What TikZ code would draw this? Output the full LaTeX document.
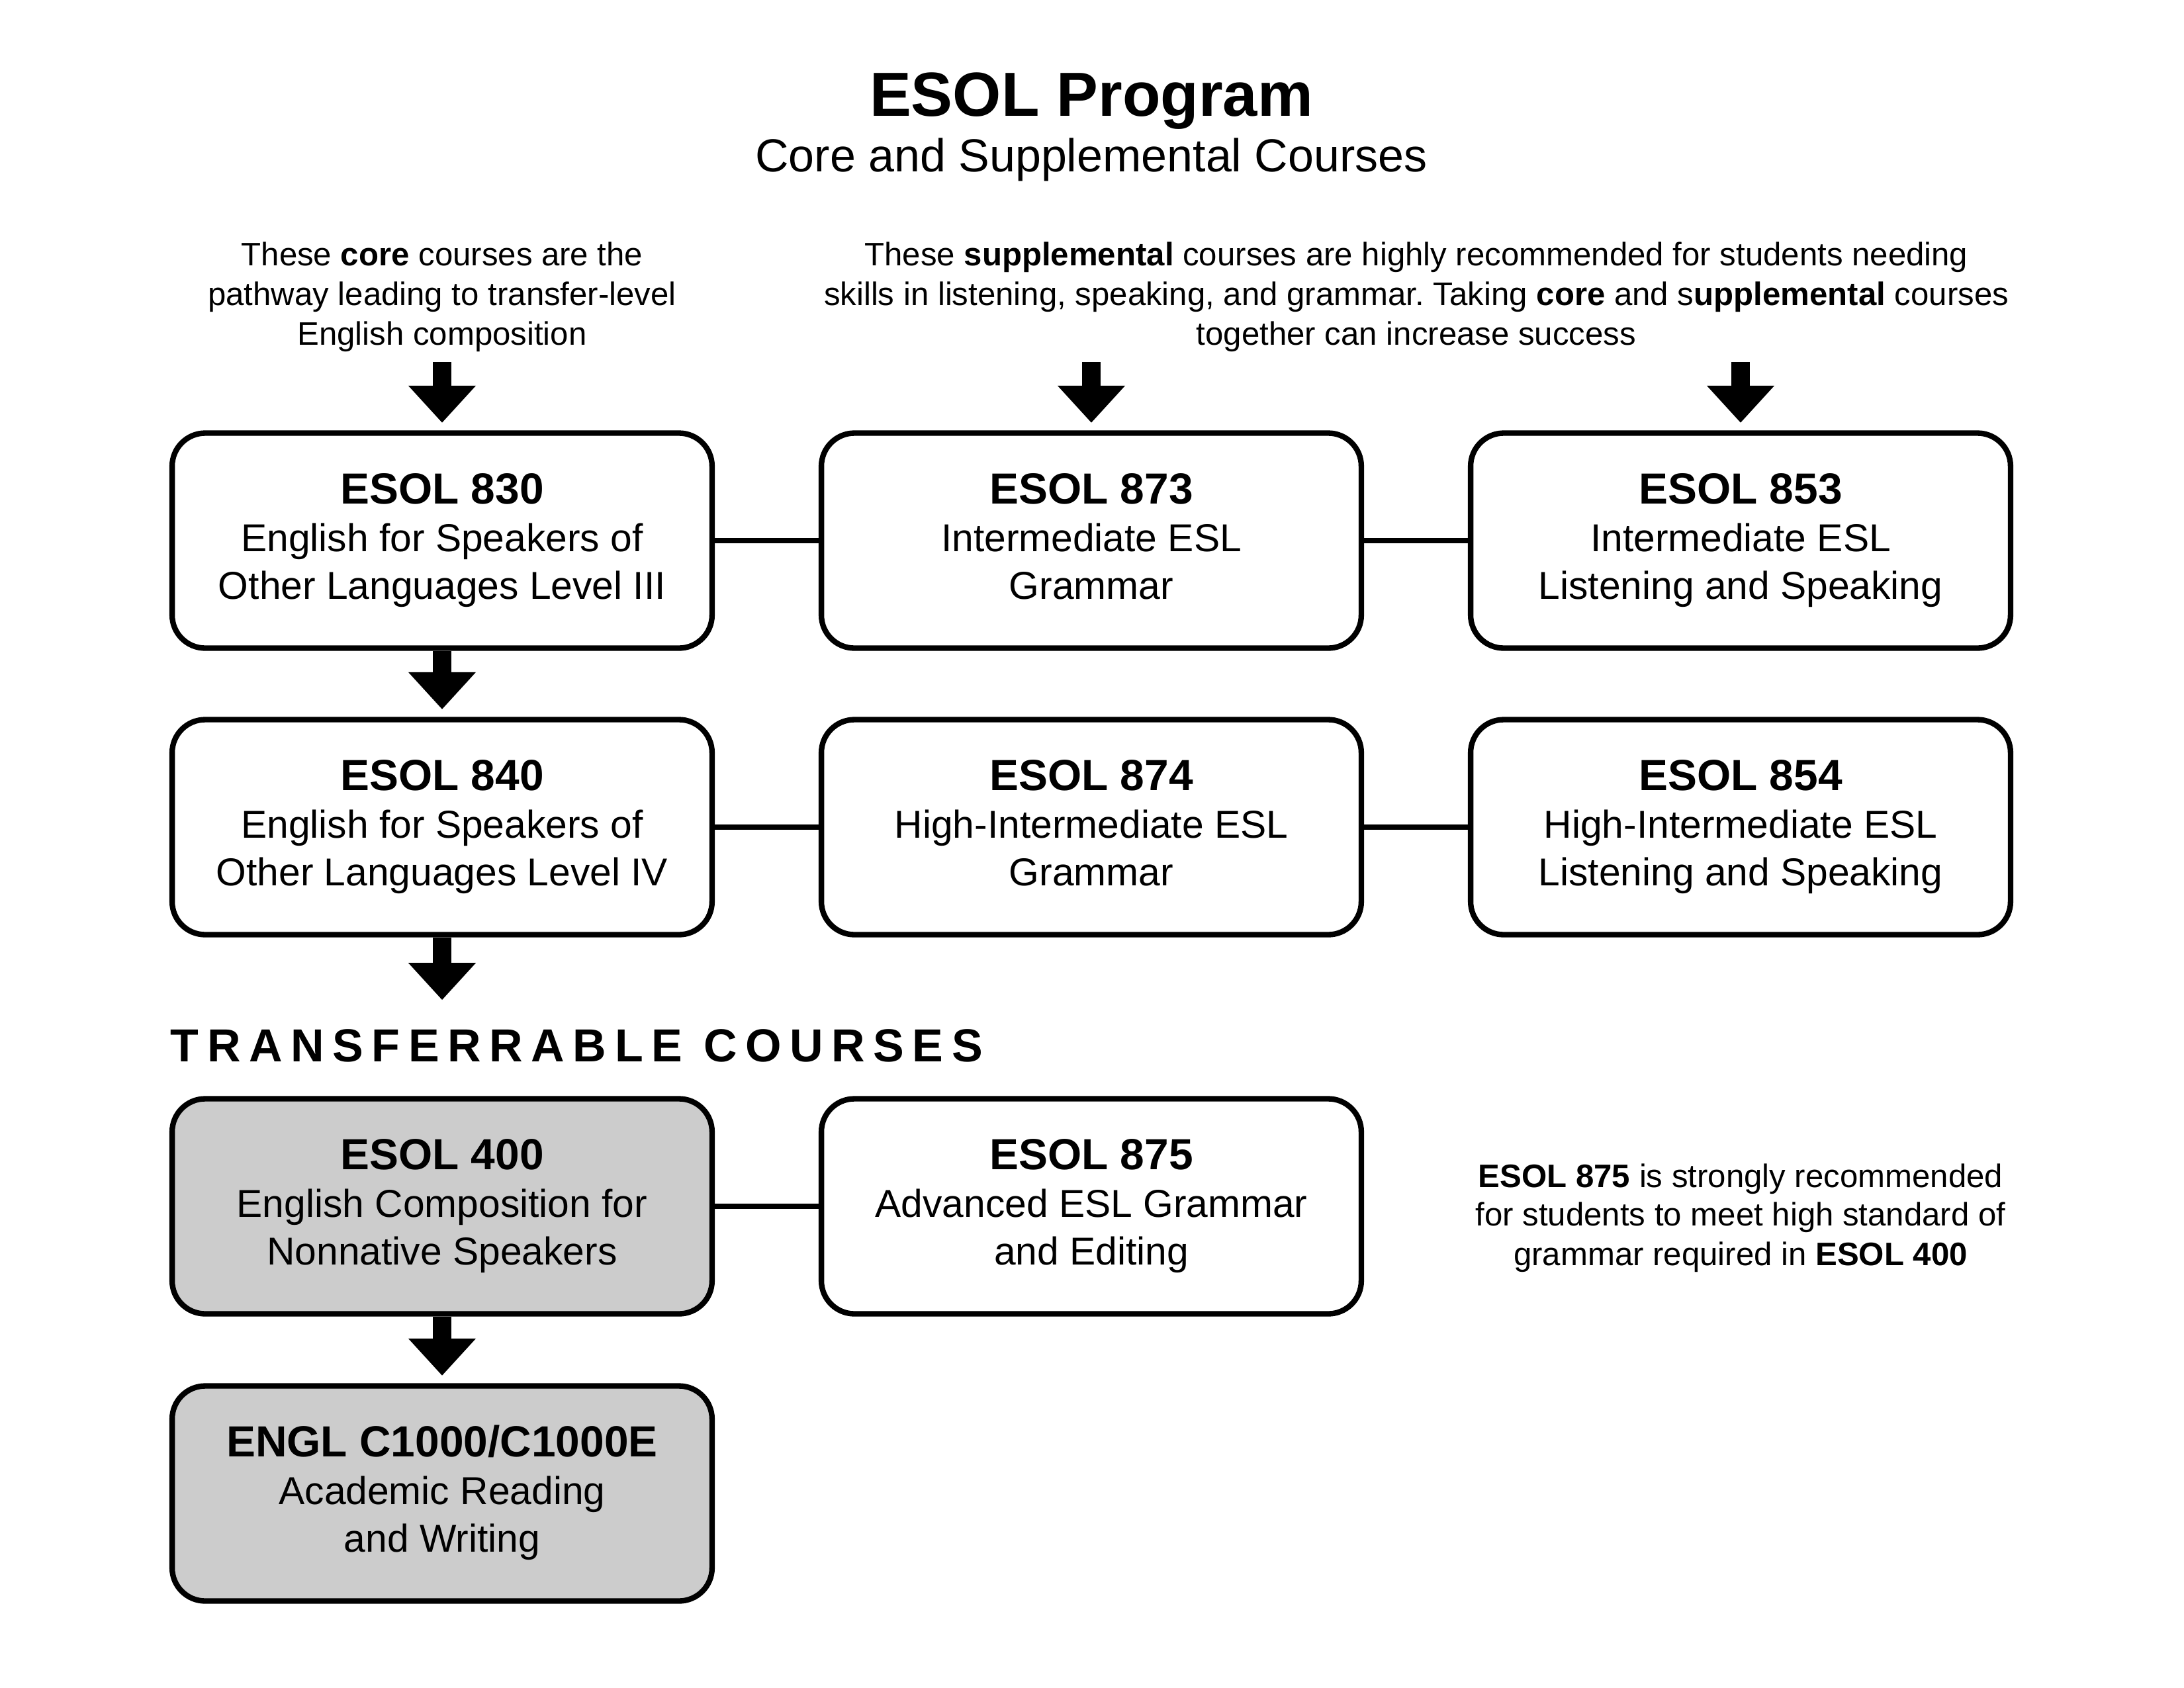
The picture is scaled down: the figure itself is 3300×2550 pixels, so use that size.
\documentclass[tikz,border=0pt]{standalone}
\usepackage{fontspec}
\setmainfont{Liberation Sans}
\usetikzlibrary{arrows.meta}
\definecolor{boxgray}{RGB}{204,204,204}
\frenchspacing
\newcommand{\coursehead}[1]{{\bfseries\fontsize{15.8}{17.2}\selectfont #1}}
\newcommand{\topstrut}{\rule{0pt}{13pt}}
\begin{document}
\begin{tikzpicture}[x=0.24pt,y=-0.24pt,
  course/.style={draw=black, line width=2pt, rounded corners=12pt,
    minimum width=195.8pt, minimum height=78pt, align=center, inner sep=0pt,
    fill=white, font=\fontsize{14.1}{17.2}\selectfont},
  graycourse/.style={course, fill=boxgray},
  conn/.style={line width=2pt},
  flow/.style={line width=6.7pt,
    -{Triangle[width=24.5pt,length=13.4pt,line width=0pt]}, shorten >=2.8pt},
  note/.style={anchor=base, inner sep=0pt, font=\fontsize{11.8}{14.4}\selectfont},
]
\useasboundingbox (0,0) rectangle (3300,2550);

% title
\node[anchor=base, inner sep=0pt, font=\bfseries\fontsize{22.6}{27}\selectfont] (title) at (1649,175) {ESOL Program};
\node[anchor=base, inner sep=0pt, font=\fontsize{16.8}{20}\selectfont] (subtitle) at (1649,259) {Core and Supplemental Courses};

% annotations
\node[note] (ca1) at (668,401) {These \textbf{core} courses are the};
\node[note] (ca2) at (668,461) {pathway leading to transfer-level};
\node[note] (ca3) at (668,521) {English composition};
\node[note] (sa1) at (2140,401) {These \textbf{supplemental} courses are highly recommended for students needing};
\node[note] (sa2) at (2140,461) {skills in listening, speaking, and grammar. Taking \textbf{core} and s\textbf{upplemental} courses};
\node[note] (sa3) at (2140,521) {together can increase success};

% course boxes
\node[course] (b830) at (668,817) {\topstrut\coursehead{ESOL 830}\\English for Speakers of\\Other Languages Level III\strut};
\node[course] (b873) at (1649,817) {\topstrut\coursehead{ESOL 873}\\Intermediate ESL\\Grammar\strut};
\node[course] (b853) at (2630,817) {\topstrut\coursehead{ESOL 853}\\Intermediate ESL\\Listening and Speaking\strut};
\node[course] (b840) at (668,1250) {\topstrut\coursehead{ESOL 840}\\English for Speakers of\\Other Languages Level IV\strut};
\node[course] (b874) at (1649,1250) {\topstrut\coursehead{ESOL 874}\\High-Intermediate ESL\\Grammar\strut};
\node[course] (b854) at (2630,1250) {\topstrut\coursehead{ESOL 854}\\High-Intermediate ESL\\Listening and Speaking\strut};
\node[graycourse] (b400) at (668,1823) {\topstrut\coursehead{ESOL 400}\\English Composition for\\Nonnative Speakers\strut};
\node[course] (b875) at (1649,1823) {\topstrut\coursehead{ESOL 875}\\Advanced ESL Grammar\\and Editing\strut};
\node[graycourse] (bengl) at (668,2257) {\topstrut\coursehead{ENGL C1000/C1000E}\\Academic Reading\\and Writing\strut};

% heading
\node[anchor=base west, inner sep=0pt, font=\bfseries\fontsize{16.8}{20}\selectfont\addfontfeatures{LetterSpace=18}] (tc) at (257,1604) {TRANSFERRABLE COURSES};

% side note
\node[note] (rn1) at (2630,1794) {\textbf{ESOL 875} is strongly recommended};
\node[note] (rn2) at (2630,1852) {for students to meet high standard of};
\node[note] (rn3) at (2630,1912) {grammar required in \textbf{ESOL 400}};

% arrows
\coordinate (a1) at (668,547);
\coordinate (a2) at (1649,547);
\coordinate (a3) at (2630,547);
\coordinate (th) at (668,1511);
\draw[flow] (a1) -- (b830);
\draw[flow] (a2) -- (b873);
\draw[flow] (a3) -- (b853);
\draw[flow] (b830) -- (b840);
\draw[flow, shorten >=0pt] (b840) -- (th);
\draw[flow] (b400) -- (bengl);

% connectors
\draw[conn] (b830) -- (b873);
\draw[conn] (b873) -- (b853);
\draw[conn] (b840) -- (b874);
\draw[conn] (b874) -- (b854);
\draw[conn] (b400) -- (b875);
\end{tikzpicture}
\end{document}
